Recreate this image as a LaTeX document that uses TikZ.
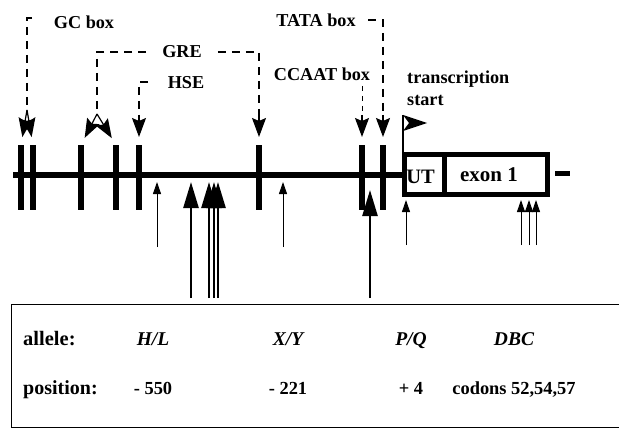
\documentclass[tikz,border=0pt]{standalone}
\usepackage{fontspec}
\setmainfont{Liberation Serif}
\usetikzlibrary{arrows.meta,positioning}

\begin{document}
\begin{tikzpicture}[x=1pt,y=-1pt,
  bar/.style={fill=black,minimum width=5.5pt,minimum height=65pt,inner sep=0pt,outer sep=0pt},
  exbox/.style={draw,line width=5pt,minimum height=40pt,inner sep=0pt,outer sep=0pt},
  site/.style={line width=1.2pt,dash pattern=on 8pt off 6pt},
  sitetip/.style={solid,line width=1.2pt,-{Stealth[length=19pt,width=14pt,inset=3pt]}},
  lbl/.style={font=\fontsize{18.2}{22}\selectfont\bfseries,inner sep=0pt},
  tbl/.style={font=\fontsize{20}{22}\selectfont\bfseries,inner sep=0pt,anchor=base},
  thick snp/.style={line width=2.5pt,-{Triangle[length=26pt,width=15pt]}},
  thin snp/.style={line width=1pt,-{Triangle[length=12pt,width=8pt]}}
]
\useasboundingbox (0,0) rectangle (619,428);

% exon boxes
\node[exbox,minimum width=39.5pt] (ut) at (424.25,174.5) {};
\node[exbox,minimum width=103.5pt,right=0pt of ut] (ex1) {};
\node[font=\fontsize{20.5}{22}\selectfont\bfseries] (utlbl) at (420.5,177) {UT};
\node[font=\fontsize{21}{22}\selectfont\bfseries] (exlbl) at (489,175) {exon 1};
\draw[line width=5pt] (555,173) -- (570,173);

% DNA line and promoter elements
\coordinate (dnastart) at (13,174.5);
\draw[line width=6pt] (dnastart) -- (ut.west);
\foreach \bx/\bn in {21/gc1,33/gc2,81/gre1,116/gre2,139/hse,259/gre3,362/ccaat,383/tata} {
  \node[bar] (\bn) at (\bx,177.5) {};
}

% transcription start
\coordinate (flagtop) at (403,115);
\draw[line width=1.5pt] (flagtop) -- (403,152);
\fill (flagtop) -- (427,123) -- (403,131) -- (409,123) -- cycle;
\node[lbl,anchor=west,align=left] (tslbl) at (407,88) {transcription\\start};

% labels
\node[lbl] (gclbl) at (84,22) {GC box};
\node[lbl,inner xsep=16pt] (grelbl) at (182,52) {GRE};
\node[lbl] (hselbl) at (186,83) {HSE};
\node[lbl] (tatalbl) at (316,20) {TATA box};
\node[lbl] (ccaatlbl) at (322,74) {CCAAT box};

% dashed pointers
\coordinate (gcfork) at (27,110);
\coordinate (grefork) at (97,114);
\draw[site] (32,18) -- (27,18) -- (gcfork);
\draw[sitetip,shorten >=8pt] (gcfork) -- (gc1.north);
\draw[sitetip,shorten >=8pt] (gcfork) -- (gc2.north);
\draw[site] (grelbl.west) -- (97,52) -- (grefork);
\draw[sitetip,shorten >=8pt] (grefork) -- (gre1.north);
\draw[sitetip,shorten >=8pt] (grefork) -- (gre2.north);
\draw[site] (grelbl.east) -| ([yshift=30pt]gre3.north);
\draw[sitetip,shorten >=8pt] ([yshift=30pt]gre3.north) -- (gre3.north);
\draw[site] (148,82) -- (139,82) -- ([yshift=30pt]hse.north);
\draw[sitetip,shorten >=8pt] ([yshift=30pt]hse.north) -- (hse.north);
\draw[site] (368,20) -- (383,20) -- ([yshift=30pt]tata.north);
\draw[sitetip,shorten >=8pt] ([yshift=30pt]tata.north) -- (tata.north);
\draw[site,dash pattern=on 5pt off 5pt,line width=1pt] (362,86) -- ([yshift=30pt]ccaat.north);
\draw[sitetip,shorten >=8pt] ([yshift=30pt]ccaat.north) -- (ccaat.north);

% polymorphisms
\foreach \px in {191,209,214,218} { \draw[thick snp] (\px,298) -- (\px,182); }
\draw[thick snp] (370,298) -- (370,190);
\foreach \px in {157,283} { \draw[thin snp] (\px,247) -- (\px,182); }
\foreach \px in {406,521,529,536} { \draw[thin snp] (\px,245) -- (\px,200); }

% allele table
\draw[line width=1pt] (625,304) -| (11,427) -- (625,427);
\node[tbl,anchor=base west,font=\fontsize{20.5}{22}\selectfont\bfseries] (allele) at (23,345) {allele:};
\node[tbl,anchor=base west] (pos) at (23,394) {position:};
\foreach \tx/\al/\ps in {153/H\slash L/- 550,288/X\slash Y/- 221,411/P\slash Q/+ 4,514/DBC/codons 52{,}54{,}57} {
  \node[tbl,font=\fontsize{19.5}{22}\selectfont\bfseries\itshape] at (\tx,345) {\al};
  \node[tbl,font=\fontsize{18.4}{22}\selectfont\bfseries] at (\tx,394) {\ps};
}

\end{tikzpicture}
\end{document}
